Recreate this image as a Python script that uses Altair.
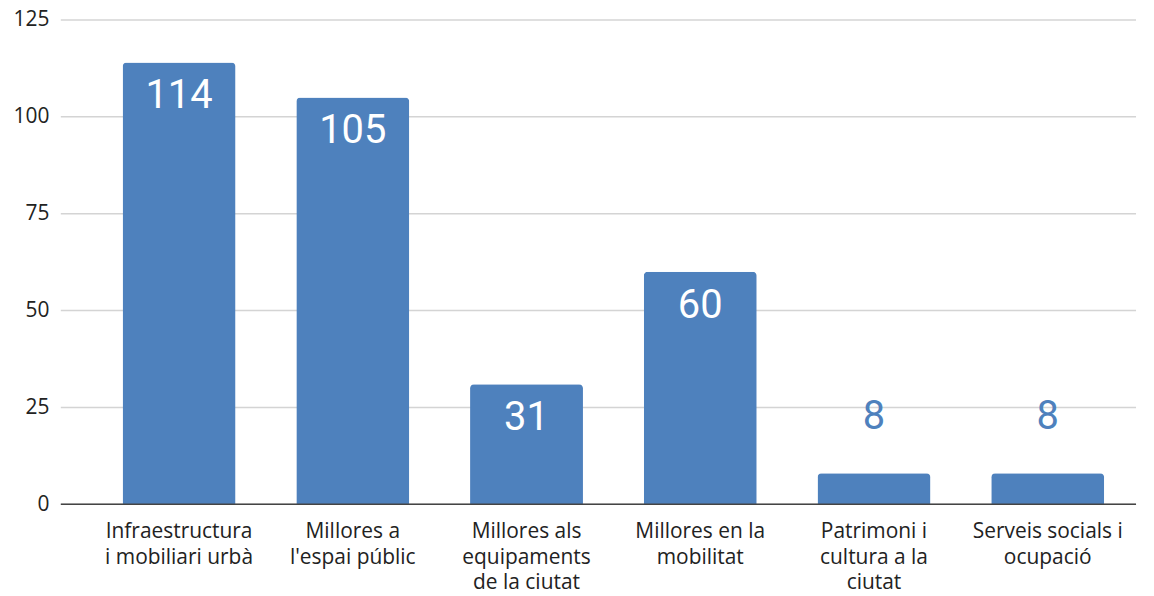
import altair as alt
import pandas as pd

categories = [
    "Infraestructura\ni mobiliari urbà",
    "Millores a\nl'espai públic",
    "Millores als\nequipaments\nde la ciutat",
    "Millores en la\nmobilitat",
    "Patrimoni i\ncultura a la\nciutat",
    "Serveis socials i\nocupació",
]
values = [114, 105, 31, 60, 8, 8]
y_ticks = [0, 25, 50, 75, 100, 125]

df = pd.DataFrame({"cat": categories, "value": values})
df["inside"] = df["value"] > 20
grid_df = pd.DataFrame({"value": y_ticks})
base_df = pd.DataFrame({"value": [0]})

BLUE = "#4e81bd"
FONT = "Open Sans"
W, H = 1079, 486

x_scale = alt.Scale(range=[32, 1077], paddingInner=0.35, paddingOuter=0.172)
y_scale = alt.Scale(domain=[0, 125], nice=False)

x_enc = alt.X(
    "cat:N",
    sort=None,
    scale=x_scale,
    axis=alt.Axis(
        title=None,
        labelAngle=0,
        labelExpr="split(datum.label, '\\n')",
        labelFont=FONT,
        labelFontSize=21,
        labelColor="#222222",
        labelLineHeight=26,
        labelPadding=16,
        labelBaseline="top",
        ticks=False,
        domain=False,
        grid=False,
    ),
)
y_enc = alt.Y(
    "value:Q",
    scale=y_scale,
    axis=alt.Axis(
        title=None,
        values=y_ticks,
        labelFont=FONT,
        labelFontSize=21,
        labelColor="#222222",
        labelPadding=12,
        ticks=False,
        domain=False,
        grid=False,
    ),
)

grid = alt.Chart(grid_df).mark_rule(color="#d4d4d4", strokeWidth=1.5).encode(
    y=y_enc, x=alt.value(0), x2=alt.value(W)
)

base = alt.Chart(df)

bars = base.mark_bar(
    color=BLUE, cornerRadiusTopLeft=4, cornerRadiusTopRight=4
).encode(x=x_enc, y=y_enc)

baseline = alt.Chart(base_df).mark_rule(color="#444444", strokeWidth=1.5).encode(
    y=y_enc, x=alt.value(0), x2=alt.value(W)
)

text_in = base.transform_filter("datum.inside").mark_text(
    font="Roboto", fontSize=40, color="white", baseline="alphabetic", dy=46
).encode(x=x_enc, y=y_enc, text="value:Q")

text_out = base.transform_filter("!datum.inside").mark_text(
    font="Roboto", fontSize=40, color=BLUE, baseline="alphabetic", dy=-44
).encode(x=x_enc, y=y_enc, text="value:Q")

chart = (
    alt.layer(grid, bars, baseline, text_in, text_out)
    .properties(
        width=W,
        height=H,
        autosize=alt.AutoSizeParams(type="none"),
        padding={"left": 53, "top": 11, "right": 10, "bottom": 90},
    )
    .configure_view(stroke=None)
)

chart.save("out.html", embed_options={"renderer": "svg", "actions": False})
